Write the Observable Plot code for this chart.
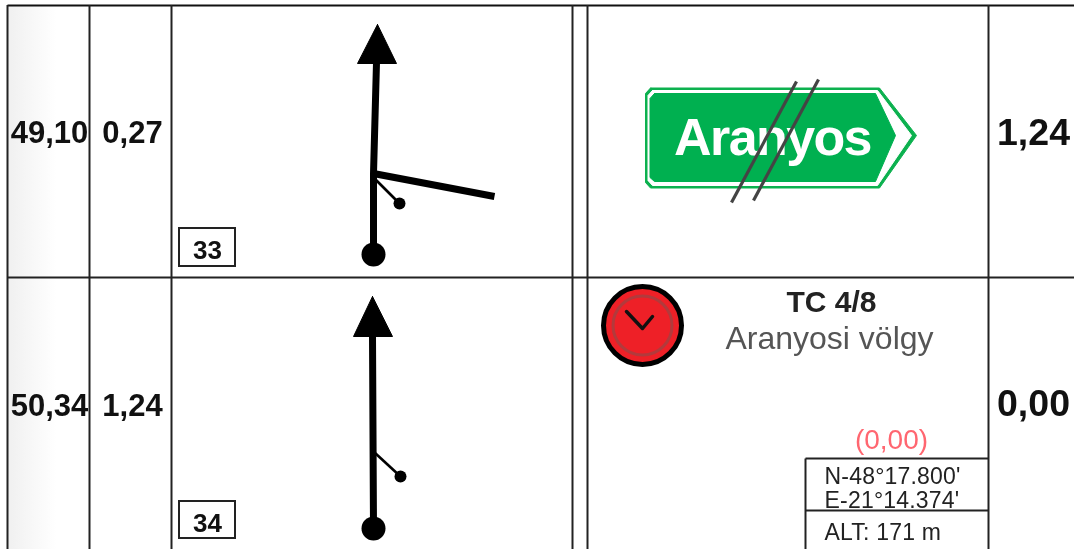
<!DOCTYPE html>
<html><head><meta charset="utf-8">
<script src="https://cdn.jsdelivr.net/npm/d3@7"></script>
<script src="https://cdn.jsdelivr.net/npm/@observablehq/plot@0.6"></script>
<style>html,body{margin:0;padding:0;background:#fff;overflow:hidden}svg{display:block;filter:blur(0.45px)}
.signtext text{letter-spacing:-1.6px}.coordtext text{letter-spacing:0.2px}</style>
</head><body><div id="chart"></div>
<script>
// Table rows: distances, partials, box numbers
const totals = [{t:"49,10",x:49,y:142},{t:"50,34",x:49,y:415}];
const partials = [{t:"0,27",x:132,y:142},{t:"1,24",x:132,y:415}];
const nextDist = [{t:"1,24",x:1033,y:144},{t:"0,00",x:1033,y:415}];
const boxLabels = [{t:"33",x:207,y:258},{t:"34",x:207,y:531}];
const boxes = [{x1:179,x2:235,y1:228,y2:266},{x1:179,x2:235,y1:501,y2:538}];
// Grid
const hLines = [{x1:7,x2:1074,y:5,c:"#111"},{x1:7,x2:1074,y:277,c:"#222"}];
const vLines = [7,89,171,572,587,988];
const coordLines = [{x1:805,y1:458,x2:988,y2:458},{x1:805,y1:510,x2:988,y2:510},{x1:805,y1:458,x2:805,y2:549}];
const shaded = [{x1:8,x2:88,y1:6,y2:549}];
// Tulip diagrams
const stems = [
  {k:"a",x:373,y:254},{k:"a",x:373,y:173},{k:"a",x:376,y:62},
  {k:"b",x:373,y:528},{k:"b",x:372,y:335}
];
const arrowHeads = [
  {k:"a",x:377,y:24},{k:"a",x:396,y:63},{k:"a",x:357,y:63},{k:"a",x:377,y:24},
  {k:"b",x:372,y:296},{k:"b",x:392,y:336},{k:"b",x:353,y:336},{k:"b",x:372,y:296}
];
const branchWide = [{x1:373,y1:173,x2:494,y2:196}];
const branchThin = [{x1:373,y1:177,x2:399,y2:203},{x1:374,y1:452,x2:400,y2:476}];
const bigDots = [{x:373,y:254},{x:373,y:528}];
const smallDots = [{x:399,y:203},{x:400,y:476}];
// Road sign
const signOuter = [[650,87.5],[879,87.5],[916,135],[879,187.5],[650,187.5],[645,182],[645,93],[650,87.5]];
const signWhite = [[652,90],[877,90],[911,135],[877,185],[652,185],[647.5,180],[647.5,95],[652,90]];
const signInner = [[654,93],[875,93],[895,135],[875,181],[654,181],[649.5,177],[649.5,98],[654,93]];
const strikes = [{x1:796,y1:81,x2:731,y2:202},{x1:818,y1:79,x2:753,y2:200}];
// Clock
const clockCentre = [{x:642,y:325}];
const clockHands = [[626,311],[642,328],[652,316]];
// Texts
const signText = [{t:"Aranyos",x:772,y:154}];
const tcTitle = [{t:"TC 4/8",x:831,y:311}];
const tcName = [{t:"Aranyosi völgy",x:829,y:348}];
const tcDiff = [{t:"(0,00)",x:891,y:448}];
const coords = [{t:"N-48°17.800'",x:824,y:483},{t:"E-21°14.374'",x:824,y:507},{t:"ALT: 171 m",x:824,y:539}];

const F = "'Liberation Sans', Arial, sans-serif";
const pts = a => a.map(([x,y]) => ({x,y}));
const txt = (d,o) => Plot.text(d,{x:"x",y:"y",text:"t",lineAnchor:"bottom",fontFamily:F,...o});
const chart = Plot.plot({
  width:1074,height:549,margin:0,
  x:{domain:[0,1074],range:[0,1074],axis:null},
  y:{domain:[0,549],range:[0,549],axis:null},
  marks:[
    () => { const s=d3.create("svg:defs");
      const g=s.append("linearGradient").attr("id","fade");
      g.append("stop").attr("offset","0").attr("stop-color","#f0f0f0");
      g.append("stop").attr("offset","0.6").attr("stop-color","#fff");
      return s.node(); },
    Plot.rect(shaded,{x1:"x1",x2:"x2",y1:"y1",y2:"y2",fill:"url(#fade)"}),
    Plot.link(hLines,{x1:"x1",x2:"x2",y1:"y",y2:"y",stroke:d=>d.c,strokeWidth:2}),
    Plot.ruleX(vLines,{y1:5,y2:549,stroke:"#222",strokeWidth:2}),
    Plot.link(coordLines,{x1:"x1",x2:"x2",y1:"y1",y2:"y2",stroke:"#222",strokeWidth:2}),
    Plot.rect(boxes,{x1:"x1",x2:"x2",y1:"y1",y2:"y2",fill:"#fff",stroke:"#222",strokeWidth:2}),
    txt(totals,{fontSize:31,fontWeight:"bold",fill:"#111"}),
    txt(partials,{fontSize:31,fontWeight:"bold",fill:"#111"}),
    txt(nextDist,{fontSize:37.5,fontWeight:"bold",fill:"#111"}),
    txt(boxLabels,{fontSize:26,fontWeight:"bold",fill:"#111"}),
    // tulips
    Plot.line(stems,{x:"x",y:"y",z:"k",stroke:"#000",strokeWidth:7,strokeLinejoin:"miter"}),
    Plot.line(arrowHeads,{x:"x",y:"y",z:"k",fill:"#000",stroke:"#000",strokeWidth:1}),
    Plot.link(branchWide,{x1:"x1",y1:"y1",x2:"x2",y2:"y2",stroke:"#000",strokeWidth:7}),
    Plot.link(branchThin,{x1:"x1",y1:"y1",x2:"x2",y2:"y2",stroke:"#000",strokeWidth:2.6}),
    Plot.dot(bigDots,{x:"x",y:"y",r:12,fill:"#000"}),
    Plot.dot(smallDots,{x:"x",y:"y",r:6,fill:"#000"}),
    // sign
    Plot.line(pts(signOuter),{x:"x",y:"y",fill:"#0cb14f",stroke:"#0cb14f",strokeWidth:1,strokeLinejoin:"round"}),
    Plot.line(pts(signWhite),{x:"x",y:"y",fill:"#fff",stroke:"#fff",strokeWidth:1,strokeLinejoin:"round"}),
    Plot.line(pts(signInner),{x:"x",y:"y",fill:"#00b050",stroke:"#00b050",strokeWidth:1,strokeLinejoin:"round"}),
    txt(signText,{fontSize:52,fontWeight:"bold",fill:"#fff",className:"signtext"}),
    Plot.link(strikes,{x1:"x1",y1:"y1",x2:"x2",y2:"y2",stroke:"#444",strokeWidth:3.2}),
    // clock
    Plot.dot(clockCentre,{x:"x",y:"y",r:39,fill:"#ee2027",stroke:"#000",strokeWidth:5}),
    Plot.dot(clockCentre,{x:"x",y:"y",r:29.5,fill:"none",stroke:"#b23a3c",strokeWidth:3}),
    Plot.line(pts(clockHands),{x:"x",y:"y",stroke:"#111",strokeWidth:3.5}),
    // text block
    txt(tcTitle,{fontSize:30,fontWeight:"bold",fill:"#222"}),
    txt(tcName,{fontSize:32,fill:"#555"}),
    txt(tcDiff,{fontSize:28,fill:"#ff6670"}),
    txt(coords,{fontSize:23,textAnchor:"start",fill:"#222",className:"coordtext"})
  ]
});
document.getElementById("chart").append(chart);
</script></body></html>
